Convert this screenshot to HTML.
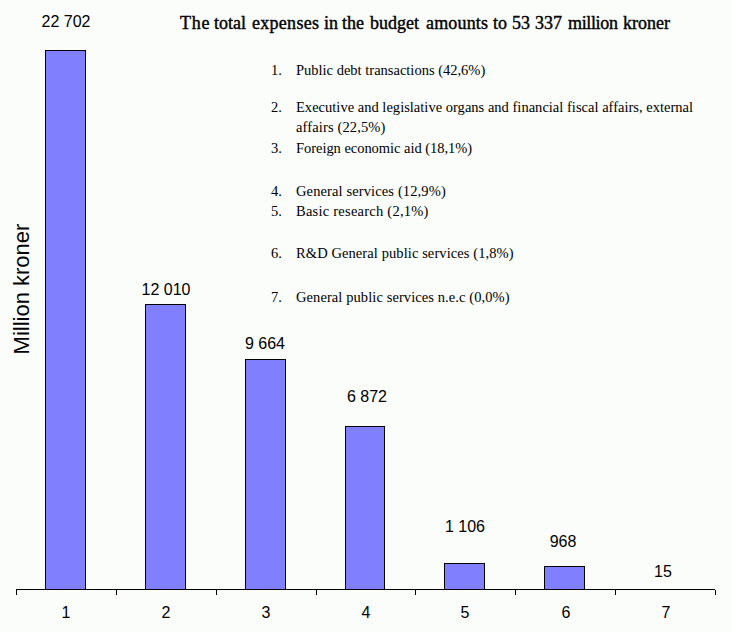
<!DOCTYPE html>
<html>
<head>
<meta charset="utf-8">
<style>
html,body{margin:0;padding:0;}
body{width:732px;height:632px;overflow:hidden;background:#FBFDFB;position:relative;}
.bar{position:absolute;box-sizing:border-box;width:41px;border:1px solid #000;background:#8080FF;}
.ax{position:absolute;background:#000;}
.v{position:absolute;font-family:"Liberation Sans",sans-serif;font-size:16px;line-height:16px;color:#000;white-space:nowrap;text-align:center;width:80px;}
.c{position:absolute;font-family:"Liberation Sans",sans-serif;font-size:16px;line-height:16px;color:#000;white-space:nowrap;text-align:center;width:40px;}
.t{position:absolute;font-family:"Liberation Serif",serif;font-size:18px;line-height:18px;color:#000;white-space:nowrap;-webkit-text-stroke:0.4px #000;}
.l{position:absolute;font-family:"Liberation Serif",serif;font-size:14.5px;line-height:14px;color:#000;white-space:nowrap;}
.yt{position:absolute;font-family:"Liberation Sans",sans-serif;font-size:22px;line-height:22px;color:#000;white-space:nowrap;transform:rotate(-90deg);transform-origin:center center;}
</style>
</head>
<body>
<!-- bars -->
<div class="bar" style="left:45px;top:50px;height:540px"></div>
<div class="bar" style="left:145px;top:304px;height:286px"></div>
<div class="bar" style="left:245px;top:359px;height:231px"></div>
<div class="bar" style="left:345px;top:426px;height:164px;width:40px"></div>
<div class="bar" style="left:444px;top:563px;height:27px"></div>
<div class="bar" style="left:544px;top:566px;height:24px"></div>

<!-- axis -->
<div class="ax" style="left:16px;top:589px;width:699px;height:1px"></div>
<div class="ax" style="left:16px;top:589px;width:1px;height:6px"></div>
<div class="ax" style="left:116px;top:589px;width:1px;height:6px"></div>
<div class="ax" style="left:216px;top:589px;width:1px;height:6px"></div>
<div class="ax" style="left:316px;top:589px;width:1px;height:6px"></div>
<div class="ax" style="left:415px;top:589px;width:1px;height:6px"></div>
<div class="ax" style="left:515px;top:589px;width:1px;height:6px"></div>
<div class="ax" style="left:615px;top:589px;width:1px;height:6px"></div>
<div class="ax" style="left:715px;top:590px;width:1px;height:5px"></div>

<!-- value labels -->
<div class="v" style="left:26px;top:14px">22 702</div>
<div class="v" style="left:126px;top:282px">12 010</div>
<div class="v" style="left:225px;top:336px">9 664</div>
<div class="v" style="left:327px;top:389px">6 872</div>
<div class="v" style="left:425px;top:519px">1 106</div>
<div class="v" style="left:523px;top:534px">968</div>
<div class="v" style="left:623px;top:564px">15</div>

<!-- category labels -->
<div class="c" style="left:46px;top:605px">1</div>
<div class="c" style="left:146px;top:605px">2</div>
<div class="c" style="left:246px;top:605px">3</div>
<div class="c" style="left:346px;top:605px">4</div>
<div class="c" style="left:445px;top:605px">5</div>
<div class="c" style="left:546px;top:605px">6</div>
<div class="c" style="left:646px;top:605px">7</div>

<!-- y title -->
<div class="yt" style="left:-43px;top:278px">Million kroner</div>

<!-- title -->
<div class="t" style="left:180px;top:14px;letter-spacing:0.8px">The</div>
<div class="t" style="left:214px;top:14px">total</div>
<div class="t" style="left:252px;top:14px;letter-spacing:0.28px">expenses</div>
<div class="t" style="left:324px;top:14px">in</div>
<div class="t" style="left:342px;top:14px">the</div>
<div class="t" style="left:370px;top:14px">budget</div>
<div class="t" style="left:426px;top:14px;letter-spacing:0.17px">amounts</div>
<div class="t" style="left:493px;top:14px">to</div>
<div class="t" style="left:512px;top:14px">53</div>
<div class="t" style="left:535px;top:14px">337</div>
<div class="t" style="left:568px;top:14px;letter-spacing:-0.35px">million</div>
<div class="t" style="left:623px;top:14px">kroner</div>

<!-- legend -->
<div class="l" style="left:271px;top:63px">1.</div><div class="l" style="left:296px;top:63px">Public debt transactions (42,6%)</div>
<div class="l" style="left:271px;top:100px">2.</div><div class="l" style="left:296px;top:100px;letter-spacing:0.015px">Executive and legislative organs and financial fiscal affairs, external</div>
<div class="l" style="left:296px;top:120px;letter-spacing:0.13px">affairs (22,5%)</div>
<div class="l" style="left:271px;top:141px">3.</div><div class="l" style="left:296px;top:141px;letter-spacing:-0.04px">Foreign economic aid (18,1%)</div>
<div class="l" style="left:271px;top:184px">4.</div><div class="l" style="left:296px;top:184px;letter-spacing:0.12px">General services (12,9%)</div>
<div class="l" style="left:271px;top:204px">5.</div><div class="l" style="left:296px;top:204px;letter-spacing:0.24px">Basic research (2,1%)</div>
<div class="l" style="left:271px;top:246px">6.</div><div class="l" style="left:296px;top:246px;letter-spacing:0.09px">R&amp;D General public services (1,8%)</div>
<div class="l" style="left:271px;top:290px">7.</div><div class="l" style="left:296px;top:290px;letter-spacing:0.085px">General public services n.e.c (0,0%)</div>
</body>
</html>
